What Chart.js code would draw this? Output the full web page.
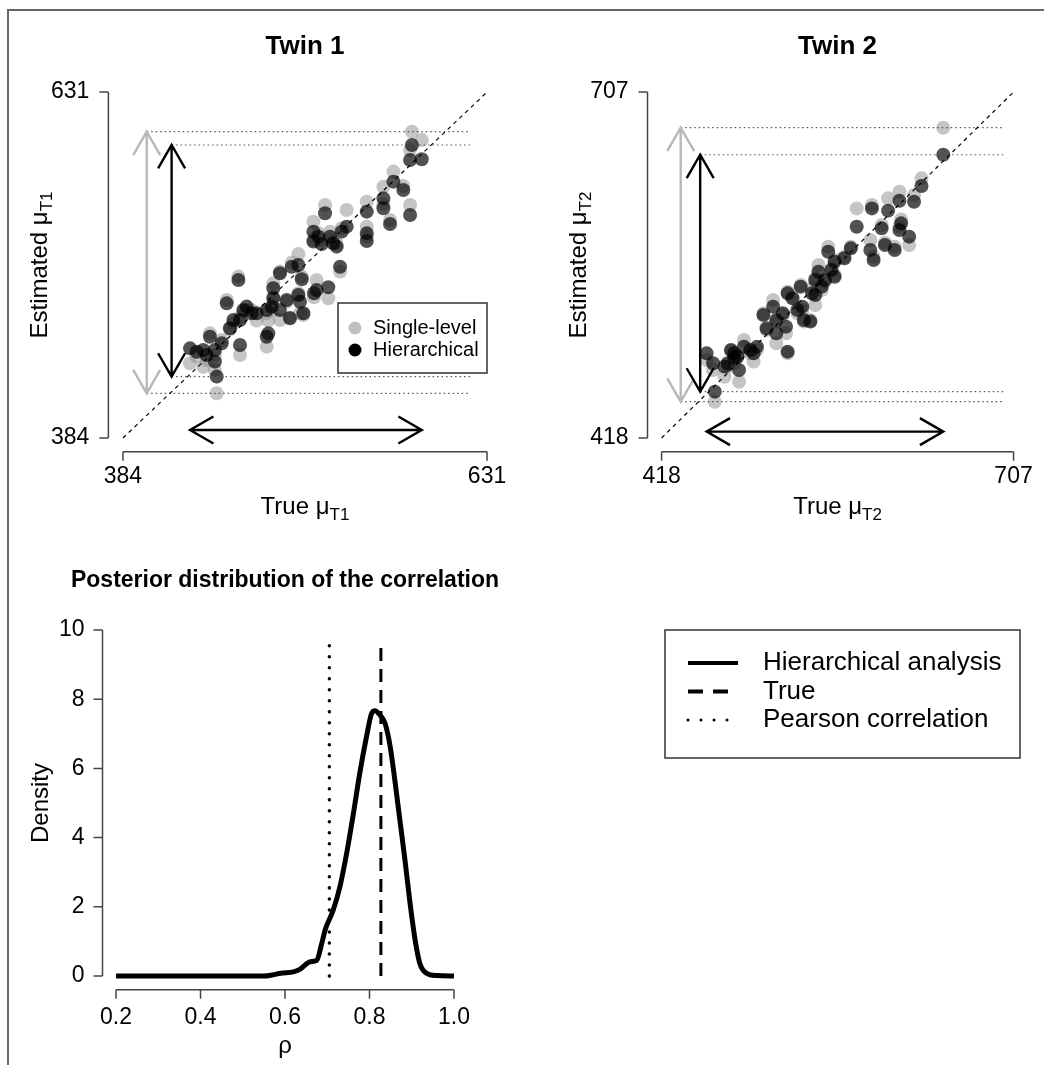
<!DOCTYPE html>
<html>
<head>
<meta charset="utf-8">
<title>Twin estimates and posterior correlation</title>
<script src="https://cdn.jsdelivr.net/npm/chart.js@4.4.0/dist/chart.umd.min.js"></script>
<style>
  html, body { margin: 0; padding: 0; background: #fff; }
  #page { position: relative; width: 1044px; height: 1065px; overflow: hidden; }
  #frame { position: absolute; left: 7px; top: 9px; width: 1100px; height: 1100px;
           border-left: 2px solid #666; border-top: 2px solid #666; }
  canvas { position: absolute; }
  #twin1 { left: 0; top: 0; }
  #twin2 { left: 522px; top: 0; }
  #post { left: 0; top: 540px; }
</style>
</head>
<body>
<div id="page">
  <div id="frame"></div>
  <canvas id="twin1" width="522" height="540"></canvas>
  <canvas id="twin2" width="522" height="540"></canvas>
  <canvas id="post" width="1044" height="525"></canvas>
</div>
<script>
// --- datos: gemelo 1 (mismo valor verdadero para ambas estimaciones) ---
const trueT1 = [580.0, 586.7, 578.8, 567.5, 574.2, 560.7, 560.7, 565.2, 578.8, 549.4,
  549.4, 549.4, 535.8, 532.4, 521.1, 513.2, 516.6, 513.2, 518.8, 524.5,
  529.0, 503.0, 498.5, 531.3, 490.5, 505.3, 515.4, 523.3, 513.6, 503.0,
  504.1, 486.0, 486.0, 495.1, 484.9, 481.5, 490.5, 497.3, 482.6, 481.5,
  462.3, 454.4, 471.3, 465.7, 463.4, 458.9, 456.6, 451.0, 443.0, 446.4,
  463.4, 438.5, 434.0, 429.5, 440.8, 446.4, 447.6, 474.7, 526.7, 506.4, 467.9];
const hierT1 = [593.2, 583.0, 582.5, 567.0, 561.1, 555.1, 548.0, 536.8, 543.2, 545.6,
  530.1, 524.6, 534.9, 531.3, 544.4, 531.3, 527.7, 524.2, 522.5, 527.7,
  520.6, 507.5, 506.3, 506.3, 501.6, 497.3, 489.7, 491.6, 487.3, 486.1,
  481.3, 490.9, 483.7, 482.5, 477.8, 475.4, 475.4, 469.4, 458.7, 456.3,
  496.8, 480.1, 473.0, 475.4, 468.2, 468.2, 462.3, 451.6, 456.3, 446.8,
  450.4, 446.8, 445.6, 448.0, 443.2, 438.5, 427.8, 473.0, 523.0, 473.0, 477.8];
const singleT1 = [602.7, 596.8, 589.6, 574.2, 563.9, 563.4, 551.1, 539.6, 550.4, 552.7,
  534.9, 527.7, 546.8, 533.7, 550.4, 538.4, 530.1, 525.8, 525.4, 531.3,
  522.5, 515.4, 509.2, 502.8, 502.8, 499.2, 496.8, 483.7, 484.4, 487.3,
  473.0, 494.4, 484.9, 481.3, 475.4, 473.0, 468.2, 470.1, 467.8, 449.2,
  499.2, 482.5, 475.4, 474.2, 470.1, 465.9, 461.6, 454.0, 458.7, 443.2,
  443.2, 434.9, 442.1, 437.3, 439.7, 432.5, 415.9, 467.8, 524.2, 471.8, 475.4];
const ticksT1 = [384, 631];

// --- datos: gemelo 2 ---
const trueT2 = [649.3, 631.4, 625.3, 613.3, 604.0, 590.7, 578.2, 614.7, 613.3, 621.3,
  598.7, 589.4, 592.1, 601.4, 609.4, 573.4, 554.8, 568.1, 560.1, 557.5,
  546.8, 544.2, 552.1, 560.1, 549.5, 532.2, 521.5, 525.5, 533.5, 534.8,
  540.2, 544.2, 509.6, 517.6, 512.2, 501.6, 504.2, 520.2, 512.2, 521.5,
  496.3, 490.9, 485.6, 477.6, 475.0, 477.6, 472.3, 455.0, 460.3, 469.7,
  481.6, 461.7, 493.6, 529.5, 541.5, 480.3];
const hierT2 = [654.6, 628.5, 615.4, 616.2, 607.9, 609.8, 594.5, 597.3, 591.7, 586.2,
  593.1, 575.0, 566.7, 579.2, 575.0, 576.4, 573.6, 568.1, 565.3, 558.3,
  556.9, 550.0, 550.0, 552.7, 544.4, 544.4, 538.8, 534.6, 527.7, 516.6,
  515.2, 537.4, 527.7, 522.1, 516.6, 520.7, 509.6, 511.0, 505.4, 490.1,
  494.3, 491.5, 494.3, 488.7, 491.5, 484.5, 480.4, 488.7, 480.4, 477.6,
  474.8, 456.7, 488.7, 524.9, 538.8, 485.9];
const singleT2 = [677.2, 634.9, 621.0, 623.7, 618.2, 612.6, 609.8, 600.6, 594.5, 579.2,
  595.9, 583.4, 569.4, 581.1, 577.8, 577.8, 577.8, 569.4, 566.7, 559.7,
  562.5, 551.4, 548.6, 554.1, 541.6, 545.8, 540.2, 536.0, 524.9, 515.2,
  516.6, 529.1, 533.3, 520.7, 515.2, 522.1, 508.2, 505.4, 497.1, 488.7,
  491.5, 488.7, 499.8, 487.3, 490.9, 480.4, 477.6, 483.1, 474.8, 469.2,
  465.0, 448.3, 481.8, 522.1, 543.0, 485.9];
const ticksT2 = [418, 707];

// posiciones de las flechas de rango (en unidades de datos)
const arrowsT1 = { singleX: 400.1, hierX: 417.0, trueY: 389.7, lineEnd: 619.5 };
const arrowsT2 = { singleX: 433.7, hierX: 449.7, trueY: 423.3, lineEnd: 699.8 };

// --- datos: distribución posterior de la correlación ---
const rhoGrid = [0.2, 0.3, 0.4, 0.5, 0.55, 0.57, 0.59, 0.62, 0.635, 0.66,
  0.675, 0.687, 0.695, 0.714, 0.73, 0.746, 0.762, 0.777, 0.793, 0.805,
  0.813, 0.825, 0.837, 0.849, 0.86, 0.872, 0.884, 0.896, 0.908, 0.919,
  0.935, 0.959, 1.0];
const densityVals = [0, 0, 0, 0, 0, 0.03, 0.08, 0.12, 0.19, 0.41,
  0.45, 0.94, 1.33, 1.9, 2.58, 3.55, 4.7, 5.86, 6.92, 7.59,
  7.67, 7.54, 7.3, 6.63, 5.66, 4.5, 3.35, 2.1, 1.04, 0.37,
  0.08, 0.01, 0];
const trueRho = 0.827, trueTop = 9.6;
const pearsonRho = 0.705, pearsonTop = 9.75;
const rhoTicks = [0.2, 0.4, 0.6, 0.8, 1.0];
const densTicks = [0, 2, 4, 6, 8, 10];

const FONT = "'Liberation Sans', Arial, Helvetica, sans-serif";
const LIGHT = 'rgba(140,140,140,0.5)';
const DARK = 'rgba(0,0,0,0.68)';

// estilo R: eje sólo entre el primer y último tick, ticks hacia afuera
const rAxes = {
  id: 'rAxes',
  afterDraw(chart) {
    const ctx = chart.ctx, area = chart.chartArea;
    ctx.save();
    ctx.strokeStyle = '#444';
    ctx.lineWidth = 1.5;
    const sx = chart.scales.x, sy = chart.scales.y;
    const xs = sx.ticks.map(t => sx.getPixelForValue(t.value));
    const ys = sy.ticks.map(t => sy.getPixelForValue(t.value));
    ctx.beginPath();
    ctx.moveTo(Math.min(...xs), area.bottom);
    ctx.lineTo(Math.max(...xs), area.bottom);
    xs.forEach(p => { ctx.moveTo(p, area.bottom); ctx.lineTo(p, area.bottom + 9); });
    ctx.moveTo(area.left, Math.min(...ys));
    ctx.lineTo(area.left, Math.max(...ys));
    ys.forEach(p => { ctx.moveTo(area.left, p); ctx.lineTo(area.left - 9, p); });
    ctx.stroke();
    ctx.restore();
  }
};

function subText(ctx, x, y, main, sub, size) {
  ctx.font = size + 'px ' + FONT;
  const w1 = ctx.measureText(main).width;
  ctx.font = Math.round(size * 0.72) + 'px ' + FONT;
  const w2 = sub ? ctx.measureText(sub).width : 0;
  const x0 = x - (w1 + w2) / 2;
  ctx.textAlign = 'left';
  ctx.textBaseline = 'middle';
  ctx.font = size + 'px ' + FONT;
  ctx.fillText(main, x0, y);
  if (sub) {
    ctx.font = Math.round(size * 0.72) + 'px ' + FONT;
    ctx.fillText(sub, x0 + w1, y + size * 0.3);
  }
}

function arrow2(ctx, x1, y1, x2, y2, color, width) {
  const L = 27, ang = Math.PI / 6;
  ctx.strokeStyle = color;
  ctx.lineWidth = width;
  ctx.beginPath();
  ctx.moveTo(x1, y1);
  ctx.lineTo(x2, y2);
  [[x1, y1, x2, y2], [x2, y2, x1, y1]].forEach(([tx, ty, fx, fy]) => {
    const a = Math.atan2(ty - fy, tx - fx);
    ctx.moveTo(tx - L * Math.cos(a - ang), ty - L * Math.sin(a - ang));
    ctx.lineTo(tx, ty);
    ctx.lineTo(tx - L * Math.cos(a + ang), ty - L * Math.sin(a + ang));
  });
  ctx.stroke();
}

const decor = {
  id: 'decor',
  afterDatasetsDraw(chart, args, o) {
    const ctx = chart.ctx, area = chart.chartArea;
    const sx = chart.scales.x, sy = chart.scales.y;
    ctx.save();
    ctx.fillStyle = '#000';
    // títulos
    ctx.font = 'bold ' + o.titleSize + 'px ' + FONT;
    ctx.textAlign = 'center';
    ctx.textBaseline = 'middle';
    ctx.fillText(o.title, (area.left + area.right) / 2, area.top - o.titleGap);
    subText(ctx, (area.left + area.right) / 2, area.bottom + o.xTitleGap, o.xTitle[0], o.xTitle[1], 24);
    ctx.save();
    ctx.translate(area.left - o.yTitleGap, (area.top + area.bottom) / 2);
    ctx.rotate(-Math.PI / 2);
    subText(ctx, 0, 0, o.yTitle[0], o.yTitle[1], 24);
    ctx.restore();

    // flechas de rango
    (o.arrows || []).forEach(a => {
      arrow2(ctx, sx.getPixelForValue(a.x1), sy.getPixelForValue(a.y1),
        sx.getPixelForValue(a.x2), sy.getPixelForValue(a.y2), a.color, 2.4);
    });

    // leyenda del panel
    if (o.legend) {
      const lg = o.legend;
      const bx = lg.left(area), by = lg.top(area);
      ctx.strokeStyle = '#333';
      ctx.lineWidth = 1.5;
      ctx.fillStyle = '#fff';
      ctx.fillRect(bx, by, lg.w, lg.h);
      ctx.strokeRect(bx, by, lg.w, lg.h);
      lg.items.forEach((it, i) => {
        const yy = by + lg.row0 + i * lg.rowGap;
        if (it.type === 'point') {
          ctx.fillStyle = it.color;
          ctx.beginPath();
          ctx.arc(bx + lg.sym, yy, 6.5, 0, Math.PI * 2);
          ctx.fill();
        } else {
          ctx.strokeStyle = '#000';
          ctx.lineWidth = it.width;
          ctx.lineCap = it.cap || 'butt';
          ctx.setLineDash(it.dash);
          ctx.beginPath();
          ctx.moveTo(bx + lg.sym, yy);
          ctx.lineTo(bx + lg.sym + lg.symW, yy);
          ctx.stroke();
          ctx.setLineDash([]);
          ctx.lineCap = 'butt';
        }
        ctx.fillStyle = '#000';
        ctx.font = lg.size + 'px ' + FONT;
        ctx.textAlign = 'left';
        ctx.textBaseline = 'middle';
        ctx.fillText(it.label, bx + lg.text, yy);
      });
    }
    ctx.restore();
  }
};

function rLimits(t) {
  const ext = 0.04 * (t[t.length - 1] - t[0]);
  return [t[0] - ext, t[t.length - 1] + ext];
}

function axisOpts(ticks, lim, fit, pad, fmt) {
  return {
    type: 'linear', min: lim[0], max: lim[1],
    afterBuildTicks: a => { a.ticks = ticks.map(v => ({ value: v })); },
    afterFit: fit,
    grid: { display: false, drawTicks: false },
    border: { display: false },
    ticks: {
      padding: pad, autoSkip: false, maxRotation: 0, color: '#000',
      font: { family: FONT, size: 23 },
      callback: fmt || (v => String(v))
    }
  };
}

function twinPanel(id, trueVals, singleVals, hierVals, ticks, arr, cfg) {
  const lim = rLimits(ticks);
  const sMax = Math.max(...singleVals), sMin = Math.min(...singleVals);
  const hMax = Math.max(...hierVals), hMin = Math.min(...hierVals);
  const tMax = Math.max(...trueVals), tMin = Math.min(...trueVals);
  const dotted = (x0, y) => ({
    type: 'scatter', showLine: true, order: 0,
    data: [{ x: x0, y: y }, { x: arr.lineEnd, y: y }],
    borderColor: '#555', borderWidth: 1.2, borderDash: [1.5, 3], pointRadius: 0
  });
  return new Chart(document.getElementById(id), {
    type: 'scatter',
    data: {
      datasets: [
        {
          label: 'Hierarchical', order: 1,
          data: trueVals.map((x, i) => ({ x: x, y: hierVals[i] })),
          backgroundColor: DARK, borderWidth: 0, pointRadius: 7, pointHoverRadius: 7
        },
        {
          label: 'Single-level', order: 2,
          data: trueVals.map((x, i) => ({ x: x, y: singleVals[i] })),
          backgroundColor: LIGHT, borderWidth: 0, pointRadius: 7, pointHoverRadius: 7
        },
        {
          type: 'scatter', showLine: true, order: 0,
          data: [{ x: ticks[0], y: ticks[0] }, { x: ticks[1], y: ticks[1] }],
          borderColor: '#000', borderWidth: 1.2, borderDash: [4, 4], pointRadius: 0
        },
        dotted(arr.singleX, sMax), dotted(arr.singleX, sMin),
        dotted(arr.hierX, hMax), dotted(arr.hierX, hMin)
      ]
    },
    options: {
      responsive: false, animation: false,
      layout: { padding: { left: 0, top: 78.2, right: cfg.right, bottom: 0 } },
      scales: {
        x: axisOpts(ticks, lim, a => { a.height = 88.2; }, 11),
        y: axisOpts(ticks, lim, a => { a.width = cfg.left; }, 19)
      },
      plugins: {
        legend: { display: false },
        tooltip: { enabled: false },
        decor: {
          title: cfg.title, titleSize: 26, titleGap: 31,
          xTitle: cfg.xTitle, xTitleGap: 56,
          yTitle: cfg.yTitle, yTitleGap: 68,
          arrows: [
            { x1: arr.singleX, y1: sMin, x2: arr.singleX, y2: sMax, color: '#b8b8b8' },
            { x1: arr.hierX, y1: hMin, x2: arr.hierX, y2: hMax, color: '#000' },
            { x1: tMin, y1: arr.trueY, x2: tMax, y2: arr.trueY, color: '#000' }
          ],
          legend: cfg.legend
        }
      }
    },
    plugins: [rAxes, decor]
  });
}

twinPanel('twin1', trueT1, singleT1, hierT1, ticksT1, arrowsT1, {
  left: 108.4, right: 20.4, title: 'Twin 1',
  xTitle: ['True \u03bc', 'T1'], yTitle: ['Estimated \u03bc', 'T1'],
  legend: {
    left: a => a.left + 229.6, top: a => a.top + 224.8, w: 149, h: 70,
    row0: 25, rowGap: 22, sym: 17, text: 35, size: 20,
    items: [
      { type: 'point', color: 'rgba(150,150,150,0.6)', label: 'Single-level' },
      { type: 'point', color: '#000', label: 'Hierarchical' }
    ]
  }
});

twinPanel('twin2', trueT2, singleT2, hierT2, ticksT2, arrowsT2, {
  left: 125.5, right: 5.5, title: 'Twin 2',
  xTitle: ['True \u03bc', 'T2'], yTitle: ['Estimated \u03bc', 'T2'],
  legend: null
});

// --- panel inferior ---
new Chart(document.getElementById('post'), {
  type: 'scatter',
  data: {
    datasets: [
      {
        label: 'Hierarchical analysis', showLine: true,
        data: rhoGrid.map((r, i) => ({ x: r, y: densityVals[i] })),
        borderColor: '#000', borderWidth: 5, pointRadius: 0,
        cubicInterpolationMode: 'monotone'
      },
      {
        label: 'True', showLine: true,
        data: [{ x: trueRho, y: 0 }, { x: trueRho, y: trueTop }],
        borderColor: '#000', borderWidth: 3, borderDash: [13, 8], pointRadius: 0
      },
      {
        label: 'Pearson correlation', showLine: true,
        data: [{ x: pearsonRho, y: 0 }, { x: pearsonRho, y: pearsonTop }],
        borderColor: '#000', borderWidth: 3.5, borderDash: [0.01, 11],
        borderCapStyle: 'round', pointRadius: 0
      }
    ]
  },
  options: {
    responsive: false, animation: false,
    layout: { padding: { left: 0, top: 76.2, right: 576.5, bottom: 0 } },
    scales: {
      x: axisOpts(rhoTicks, rLimits(rhoTicks), a => { a.height = 75.2; }, 14, v => v.toFixed(1)),
      y: axisOpts(densTicks, rLimits(densTicks), a => { a.width = 102.5; }, 18)
    },
    plugins: {
      legend: { display: false },
      tooltip: { enabled: false },
      decor: {
        title: 'Posterior distribution of the correlation', titleSize: 23, titleGap: 36,
        xTitle: ['\u03c1', ''], xTitleGap: 57,
        yTitle: ['Density', ''], yTitleGap: 61,
        arrows: [],
        legend: {
          left: a => 665, top: a => 90, w: 355, h: 128,
          row0: 33, rowGap: 28.5, sym: 23, symW: 50, text: 98, size: 26,
          items: [
            { type: 'line', width: 4, dash: [], label: 'Hierarchical analysis' },
            { type: 'line', width: 4, dash: [15, 10], label: 'True' },
            { type: 'line', width: 3, dash: [0.01, 13], cap: 'round', label: 'Pearson correlation' }
          ]
        }
      }
    }
  },
  plugins: [rAxes, decor]
});
</script>
</body>
</html>
